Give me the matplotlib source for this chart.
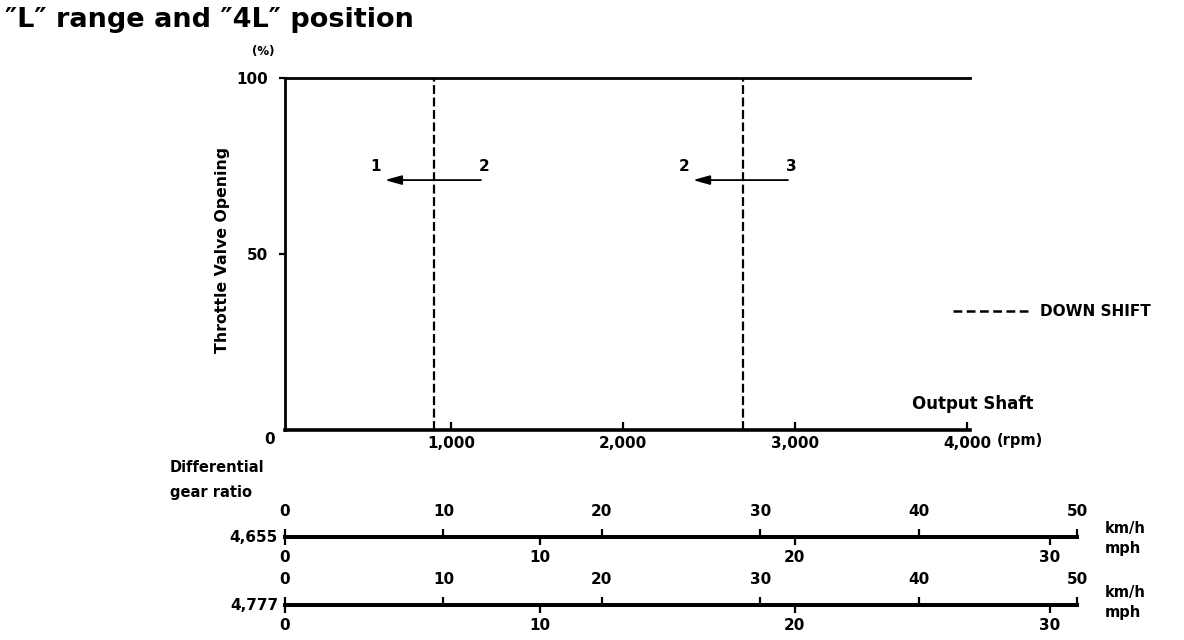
import numpy as np
import matplotlib
matplotlib.use("Agg")
import matplotlib.pyplot as plt
from matplotlib.lines import Line2D

# ---------------- data ----------------
title = "\u2033L\u2033 range and \u20334L\u2033 position"
rpm_ticks = [1000, 2000, 3000, 4000]
rpm_tick_labels = ["1,000", "2,000", "3,000", "4,000"]
throttle_ticks = [50, 100]
throttle_tick_labels = ["50", "100"]
downshift_rpm = [900, 2700]                 # dashed down-shift lines
shift_from_rpm = [1174, 2959]               # arrow tails
shift_to_rpm = [616, 2407]                  # arrow heads
shift_throttle = [71, 71]
shift_to_label = ["1", "2"]
shift_from_label = ["2", "3"]
gear_ratios = ["4,655", "4,777"]
kmh_ticks = [0, 10, 20, 30, 40, 50]
mph_ticks = [0, 10, 20, 30]
KMH_PER_MPH = 1.609

W, H = 1184, 640
plt.rcParams['font.family'] = ['DejaVu Sans']
fig = plt.figure(figsize=(W / 100, H / 100), dpi=100)


def fx(x):
    return x / W


def fy(y):
    return 1 - y / H


# ---------------- main chart ----------------
ax = fig.add_axes([fx(285), fy(430), (970 - 285) / W, (430 - 78) / H])
ax.set_xlim(35, 4017)
ax.set_ylim(0, 100)
for s, lw in (("top", 2.0), ("left", 2.0), ("bottom", 2.6)):
    ax.spines[s].set_linewidth(lw)
ax.spines["right"].set_visible(False)

ax.set_xticks(rpm_ticks)
ax.set_xticklabels(rpm_tick_labels, fontsize=11, fontweight="bold")
ax.tick_params(axis="x", direction="in", length=6, width=1.6, pad=4)
ax.set_yticks(throttle_ticks)
ax.set_yticklabels(throttle_tick_labels, fontsize=11, fontweight="bold")
ax.tick_params(axis="y", direction="out", length=4.5, width=1.6, pad=8)

ax.vlines(downshift_rpm, 0, 100, colors="k", linewidth=1.6,
          linestyles=[(0, (4, 1.6))])

for x0, x1, t, lt, lf in zip(shift_from_rpm, shift_to_rpm, shift_throttle,
                             shift_to_label, shift_from_label):
    ax.annotate("", xy=(x1, t), xytext=(x0, t),
                arrowprops=dict(arrowstyle="-|>,head_length=1.0,head_width=0.28",
                                color="k", lw=1.3, shrinkA=0, shrinkB=0))
    ax.annotate(lt, xy=(x1, t), xytext=(-9, 14), textcoords="offset pixels",
                ha="center", va="center", fontsize=11, fontweight="bold")
    ax.annotate(lf, xy=(x0, t), xytext=(3, 14), textcoords="offset pixels",
                ha="center", va="center", fontsize=11, fontweight="bold")

# ---------------- texts ----------------
fig.text(fx(5), fy(20), title, fontsize=19.5, fontweight="bold",
         ha="left", va="center")
fig.text(fx(263), fy(52), "(%)", fontsize=8.5, fontweight="bold",
         ha="center", va="center")
fig.text(fx(270), fy(439), "0", fontsize=11, fontweight="bold",
         ha="center", va="center")
fig.text(fx(222), fy(250), "Throttle Valve Opening", fontsize=11.3,
         fontweight="bold", rotation=90, ha="center", va="center")
fig.text(fx(973), fy(404), "Output Shaft", fontsize=12, fontweight="bold",
         ha="center", va="center")
fig.text(fx(997), fy(441), "(rpm)", fontsize=10.5, fontweight="bold",
         ha="left", va="center")
fig.add_artist(Line2D([fx(953), fx(1030)], [fy(311), fy(311)], color="k",
                      linewidth=1.8, linestyle=(0, (3.5, 1.8))))
fig.text(fx(1040), fy(311), "DOWN SHIFT", fontsize=11, fontweight="bold",
         ha="left", va="center")
fig.text(fx(170), fy(468), "Differential", fontsize=10.5, fontweight="bold",
         ha="left", va="center")
fig.text(fx(170), fy(492), "gear ratio", fontsize=10.5, fontweight="bold",
         ha="left", va="center")

# ---------------- speed scales ----------------
line_y = [537, 605]
kmh_y = [528, 593]
mph_y = [549, 612]
for ratio, yl, yk, ym in zip(gear_ratios, line_y, kmh_y, mph_y):
    sax = fig.add_axes([fx(285), fy(yl), (1077 - 285) / W, 0.0001])
    sax.set_xlim(0, 50)
    sax.set_yticks([])
    for s in ("top", "left", "right"):
        sax.spines[s].set_visible(False)
    sax.spines["bottom"].set_linewidth(2.8)
    sax.xaxis.tick_top()
    sax.set_xticks(kmh_ticks)
    sax.set_xticklabels([str(v) for v in kmh_ticks], fontsize=11,
                        fontweight="bold")
    sax.tick_params(axis="x", direction="out", length=6, width=1.6, pad=7)
    sec = sax.secondary_xaxis(
        "bottom",
        functions=(lambda k: np.asarray(k) / KMH_PER_MPH,
                   lambda m: np.asarray(m) * KMH_PER_MPH))
    sec.set_xticks(mph_ticks)
    sec.set_xticklabels([str(v) for v in mph_ticks], fontsize=11,
                        fontweight="bold")
    sec.tick_params(axis="x", direction="out", length=6, width=1.6, pad=3)
    sec.spines["bottom"].set_linewidth(2.8)
    fig.text(fx(278), fy(yl), ratio, fontsize=11, fontweight="bold",
             ha="right", va="center")
    fig.text(fx(1105), fy(yk), "km/h", fontsize=10.5, fontweight="bold",
             ha="left", va="center")
    fig.text(fx(1105), fy(ym), "mph", fontsize=10.5, fontweight="bold",
             ha="left", va="center")

fig.savefig("out.png", dpi=100)
